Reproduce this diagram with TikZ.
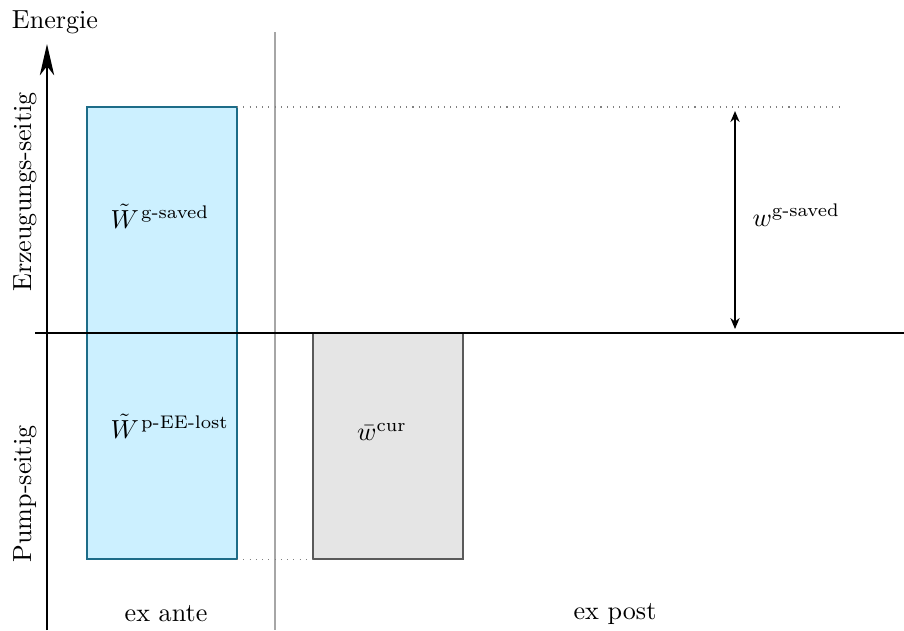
\documentclass[tikz,border=0pt]{standalone}
\usepackage{amsmath}
\usetikzlibrary{arrows.meta}
\definecolor{antefill}{HTML}{CCF0FF}
\definecolor{antedraw}{HTML}{1D6C88}
\definecolor{postfill}{HTML}{E5E5E5}
\definecolor{postdraw}{HTML}{5A5A5A}
\begin{document}
\begin{tikzpicture}[x=0.383pt,y=-0.383pt,
  axis/.style={line width=0.8pt},
  guide/.style={draw=gray, dotted, line width=0.4pt},
  antebox/.style={fill=antefill, draw=antedraw, line width=0.6pt},
  postbox/.style={fill=postfill, draw=postdraw, line width=0.6pt},
  divider/.style={draw=black!35, line width=0.5pt},
  lbl/.style={inner sep=0pt, font=\normalsize}]
  \useasboundingbox (0,0) rectangle (904,630);

  % corners of the two energy blocks
  \coordinate (aTL) at (87,107);
  \coordinate (aTR) at (237,107);
  \coordinate (aBR) at (237,559);
  \coordinate (pTL) at (313,333);
  \coordinate (pBL) at (313,559);
  \coordinate (pBR) at (463,559);
  \coordinate (gEnd) at (840,107);
  \coordinate (dTop) at (735,111);
  \coordinate (dBot) at (735,329);

  % ex ante / ex post divider
  \coordinate (divT) at (275,32);
  \coordinate (divB) at (275,630);
  \draw[divider] (divT) -- (divB);

  % blocks
  \draw[antebox] (aTL) rectangle (aBR);
  \draw[postbox] (pTL) rectangle (pBR);

  % dotted guides
  \draw[guide] (aTR) -- (gEnd);
  \draw[guide] (aBR) -- (pBL);

  % axes
  \coordinate (yB) at (47,630);
  \coordinate (yT) at (47,44);
  \coordinate (xL) at (35,333);
  \coordinate (xR) at (904,333);
  \draw[axis] (xL) -- (xR);
  \draw[axis, -{Stealth[length=12pt,width=5.5pt,inset=3.5pt]}] (yB) -- (yT);
  \node[lbl] (energie) at (55,22) {Energie};

  % height of the generation-side block
  \draw[line width=0.7pt, {Stealth[length=4.2pt,width=3.5pt]}-{Stealth[length=4.2pt,width=3.5pt]}] (dTop) -- (dBot);
  \node[lbl, anchor=west] (wg) at (752,215) {$w^{\text{g-saved}}$};

  % block labels
  \node[lbl, anchor=west] (wgs) at (110,216) {$\tilde{W}^{\mkern2mu\text{g-saved}}$};
  \node[lbl, anchor=west] (wpl) at (110,426) {$\tilde{W}^{\mkern2mu\text{p-EE-lost}}$};
  \node[lbl] (wcur) at (382,432) {$\bar{w}^{\text{cur}}$};

  % side labels
  \node[lbl, rotate=90] (erz) at (25,192) {Erzeugungs-seitig};
  \node[lbl, rotate=90] (pump) at (25,494) {Pump-seitig};

  % period labels
  \node[lbl] (ante) at (166,614) {ex ante};
  \node[lbl] (post) at (615,614) {ex post};
\end{tikzpicture}
\end{document}
